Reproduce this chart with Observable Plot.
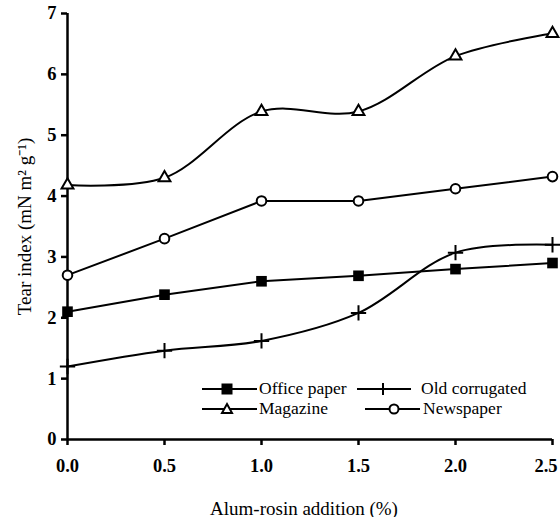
<!DOCTYPE html>
<html>
<head>
<meta charset="utf-8">
<script src="https://cdn.jsdelivr.net/npm/d3@7"></script>
<script src="https://cdn.jsdelivr.net/npm/@observablehq/plot@0.6"></script>
<style>
  html, body { margin: 0; padding: 0; background: #fff; }
  #wrap { position: relative; width: 560px; height: 517px; font-family: "Liberation Serif", "Times New Roman", Times, serif; }
  #wrap svg text { font-family: "Liberation Serif", "Times New Roman", Times, serif !important; fill: #000; }
  #wrap g[aria-label="x-axis tick label"] text, #wrap g[aria-label="y-axis tick label"] text { font-size: 18.5px; font-weight: bold; }
  #wrap g[aria-label="x-axis label"] text, #wrap g[aria-label="y-axis label"] text { font-size: 19px; font-weight: normal; }
  .legtxt { position: absolute; font-size: 17.5px; line-height: 16px; color: #000; white-space: nowrap; font-family: "Liberation Serif", "Times New Roman", Times, serif; }
  .legsym { position: absolute; }
</style>
</head>
<body>
<div id="wrap"></div>
<script>
const additions = [0.0, 0.5, 1.0, 1.5, 2.0, 2.5];
const officePaper = [2.1, 2.38, 2.6, 2.69, 2.8, 2.9];
const magazine = [4.18, 4.3, 5.39, 5.39, 6.3, 6.67];
const oldCorrugated = [1.2, 1.46, 1.62, 2.08, 3.07, 3.2];
const newspaper = [2.7, 3.3, 3.92, 3.92, 4.12, 4.32];
const xTicks = [0.0, 0.5, 1.0, 1.5, 2.0, 2.5];
const yTicks = [0, 1, 2, 3, 4, 5, 6, 7];

const rows = (vals) => additions.map((x, i) => ({x, y: vals[i]}));
const office = rows(officePaper), mag = rows(magazine), corr = rows(oldCorrugated), news = rows(newspaper);

const chart = Plot.plot({
  width: 560,
  height: 517,
  marginLeft: 67,
  marginRight: 8,
  marginTop: 13,
  marginBottom: 78,
  style: { background: "#fff", color: "#000" },
  x: { domain: [0, 2.5] },
  y: { domain: [0, 7] },
  marks: [
    Plot.axisX(xTicks, { tickFormat: d3.format(".1f"), tickSize: 6, tickPadding: 13, strokeWidth: 2.5,
      label: "Alum-rosin addition (%)", labelAnchor: "center", labelOffset: 75, labelArrow: "none" }),
    Plot.axisY(yTicks, { tickFormat: d3.format("d"), tickSize: 6, tickPadding: 5, strokeWidth: 2.5,
      label: "Tear index (mN m\u00B2 g\u207B\u00B9)", labelAnchor: "center", labelOffset: 50, labelArrow: "none" }),
    Plot.ruleX([0], { y1: 0, y2: 7, strokeWidth: 2.5 }),
    Plot.ruleY([0], { x1: 0, x2: 2.5, strokeWidth: 2.5 }),
    Plot.line(office, { x: "x", y: "y", stroke: "#000", strokeWidth: 2 }),
    Plot.line(news, { x: "x", y: "y", stroke: "#000", strokeWidth: 2 }),
    Plot.line(mag, { x: "x", y: "y", stroke: "#000", strokeWidth: 2, curve: "catmull-rom" }),
    Plot.line(corr, { x: "x", y: "y", stroke: "#000", strokeWidth: 2, curve: "catmull-rom" }),
    Plot.dot(office, { x: "x", y: "y", symbol: "square", r: 6, fill: "#000" }),
    Plot.dot(news, { x: "x", y: "y", symbol: "circle", r: 4.8, fill: "#fff", stroke: "#000", strokeWidth: 2 }),
    Plot.dot(mag, { x: "x", y: "y", symbol: "triangle", r: 4.4, fill: "#fff", stroke: "#000", strokeWidth: 2 }),
    Plot.dot(corr, { x: "x", y: "y", symbol: "plus", r: 5, stroke: "#000", strokeWidth: 2 })
  ]
});
const wrap = document.getElementById("wrap");
wrap.appendChild(chart);
// nudge last x tick label inward so it is not clipped
const xl = chart.querySelectorAll("g[aria-label='x-axis tick label'] text");
if (xl.length) { const last = xl[xl.length - 1]; last.setAttribute("text-anchor", "end"); last.setAttribute("dx", "5"); }
const xlab = chart.querySelector("g[aria-label='x-axis label'] text");
if (xlab) xlab.setAttribute("dx", "-6");

const legendItems = [
  { name: "Office paper", sym: "square", x0: 202, x1: 257, sx: 227, tx: 259, cy: 389 },
  { name: "Old corrugated", sym: "plus", x0: 357, x1: 411, sx: 383, tx: 421, cy: 389 },
  { name: "Magazine", sym: "triangle", x0: 202, x1: 257, sx: 227, tx: 259, cy: 409 },
  { name: "Newspaper", sym: "circle", x0: 365, x1: 420, sx: 394, tx: 423, cy: 409 }
];
function symSvg(it) {
  const w = it.x1 - it.x0, h = 18, cx = it.sx - it.x0, cy = 9;
  let s = `<svg width="${w}" height="${h}"><line x1="0" y1="${cy}" x2="${w}" y2="${cy}" stroke="#000" stroke-width="2"/>`;
  if (it.sym === "square") s += `<rect x="${cx-5.5}" y="${cy-5.5}" width="11" height="11" fill="#000"/>`;
  if (it.sym === "plus") s += `<line x1="${cx}" y1="${cy-6}" x2="${cx}" y2="${cy+6}" stroke="#000" stroke-width="2"/>`;
  if (it.sym === "triangle") s += `<path d="M${cx},${cy-5}L${cx+5},${cy+4}L${cx-5},${cy+4}Z" fill="#fff" stroke="#000" stroke-width="2"/>`;
  if (it.sym === "circle") s += `<circle cx="${cx}" cy="${cy}" r="4.5" fill="#fff" stroke="#000" stroke-width="2"/>`;
  return s + `</svg>`;
}
legendItems.forEach(it => {
  const s = document.createElement("div");
  s.className = "legsym";
  s.style.left = it.x0 + "px";
  s.style.top = (it.cy - 9) + "px";
  s.innerHTML = symSvg(it);
  wrap.appendChild(s);
  const t = document.createElement("div");
  t.className = "legtxt";
  t.style.left = it.tx + "px";
  t.style.top = (it.cy - 9) + "px";
  t.textContent = it.name;
  wrap.appendChild(t);
});
</script>
</body>
</html>
